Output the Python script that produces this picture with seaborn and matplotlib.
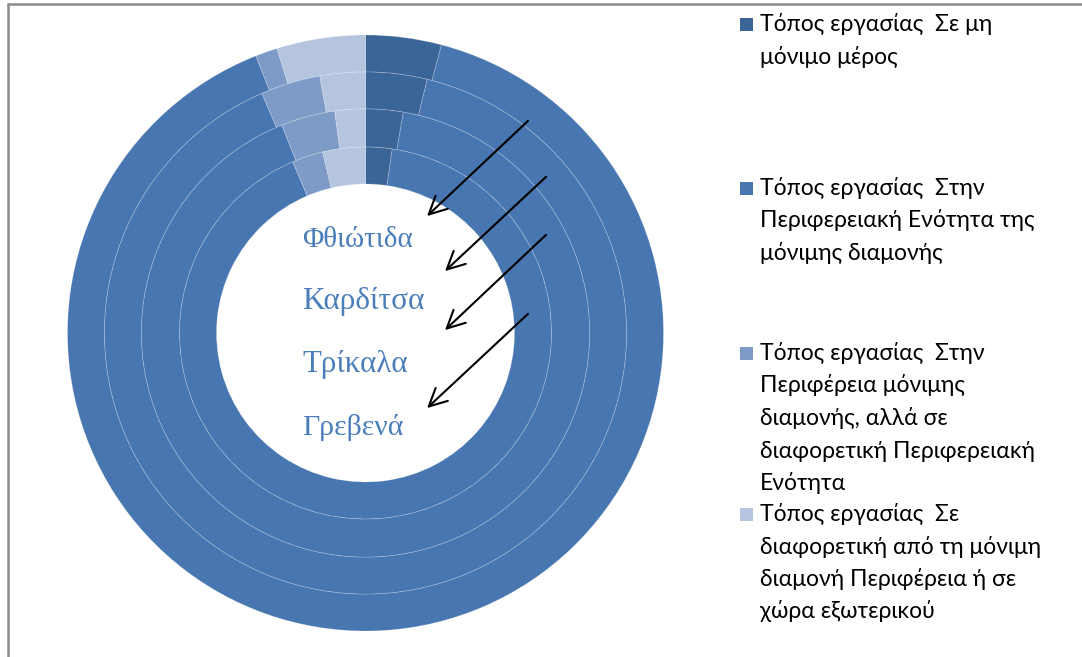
import matplotlib
matplotlib.use("Agg")
import matplotlib.pyplot as plt
import seaborn as sns
from matplotlib.lines import Line2D
from matplotlib.patches import Rectangle, FancyArrowPatch

sns.set_theme(style="white")
plt.rcParams['font.family'] = ['Lato', 'DejaVu Sans']

# ---- data ----
regions = ["Φθιώτιδα", "Καρδίτσα", "Τρίκαλα", "Γρεβενά"]  # outer -> inner ring
categories = [
    "Τόπος εργασίας  Σε μη\nμόνιμο μέρος",
    "Τόπος εργασίας  Στην\nΠεριφερειακή Ενότητα της\nμόνιμης διαμονής",
    "Τόπος εργασίας  Στην\nΠεριφέρεια μόνιμης\nδιαμονής, αλλά σε\nδιαφορετική Περιφερειακή\nΕνότητα",
    "Τόπος εργασίας  Σε\nδιαφορετική από τη μόνιμη\nδιαμονή Περιφέρεια ή σε\nχώρα εξωτερικού",
]
fthiotida = [4.1, 89.9, 1.2, 4.8]
karditsa = [3.8, 89.7, 3.7, 2.8]
trikala = [2.7, 91.2, 3.9, 2.2]
grevena = [2.3, 91.3, 2.7, 3.7]
ring_values = [fthiotida, karditsa, trikala, grevena]

colors = ["#3C6597", "#4876B0", "#7E9BC8", "#B5C5E0"]
W, H = 1082, 657
fig = plt.figure(figsize=(W / 100, H / 100), dpi=100)
fig.patch.set_facecolor("white")

# donut axes: center (365.5, 333) px, radius 298 px
cx, cy, R = 365.5, 333, 298
ax = fig.add_axes([(cx - R) / W, (H - cy - R) / H, 2 * R / W, 2 * R / H])
ax.axis("off")

radii = [1.0, 0.876, 0.752, 0.624, 0.5]
for i, vals in enumerate(ring_values):
    r_out, r_in = radii[i], radii[i + 1]
    ax.pie(vals, radius=r_out, colors=colors, startangle=90, counterclock=False,
           wedgeprops=dict(width=r_out - r_in, edgecolor=(1, 1, 1, 0.22), linewidth=0.6))
ax.set_xlim(-1, 1)
ax.set_ylim(-1, 1)
ax.set_aspect("equal")

# region labels inside hole
label_baselines = [247, 309, 372, 435]
label_sizes = [21, 22.5, 22.3, 21.5]
for name, yb, fs in zip(regions, label_baselines, label_sizes):
    fig.text(302 / W, (H - yb) / H, name, fontsize=fs, color="#4A7EBB",
             family=["Liberation Serif", "DejaVu Serif"], ha="left", va="baseline")

# arrows
arrows = [((530, 119), (425, 218)), ((548, 175), (443, 273)),
          ((548, 233), (443, 332)), ((530, 312), (425, 410))]
for (x0, y0), (x1, y1) in arrows:
    fig.add_artist(FancyArrowPatch(
        (x0 / W, (H - y0) / H), (x1 / W, (H - y1) / H), transform=fig.transFigure,
        arrowstyle="->", mutation_scale=32, lw=1.5, color="black"))

# legend (manual layout)
entry_tops = [24, 188, 353, 514]
pitch = 32.5
for lab, col, y0 in zip(categories, colors, entry_tops):
    fig.add_artist(Rectangle((740 / W, (H - y0 - 6.5) / H), 13 / W, 13 / H,
                             transform=fig.transFigure, facecolor=col, edgecolor="none"))
    for i, line in enumerate(lab.split("\n")):
        yb = y0 + i * pitch + 7
        fig.text(760 / W, (H - yb) / H, line, fontsize=16.5, color="black",
                 ha="left", va="baseline")

# frame border
fig.add_artist(Line2D([8 / W, 8 / W], [0, (H - 4) / H], transform=fig.transFigure,
                      color="#8C8C8C", lw=1.8))
fig.add_artist(Line2D([8 / W, 1], [(H - 4) / H, (H - 4) / H], transform=fig.transFigure,
                      color="#8C8C8C", lw=1.8))

fig.savefig("out.png", dpi=100)
